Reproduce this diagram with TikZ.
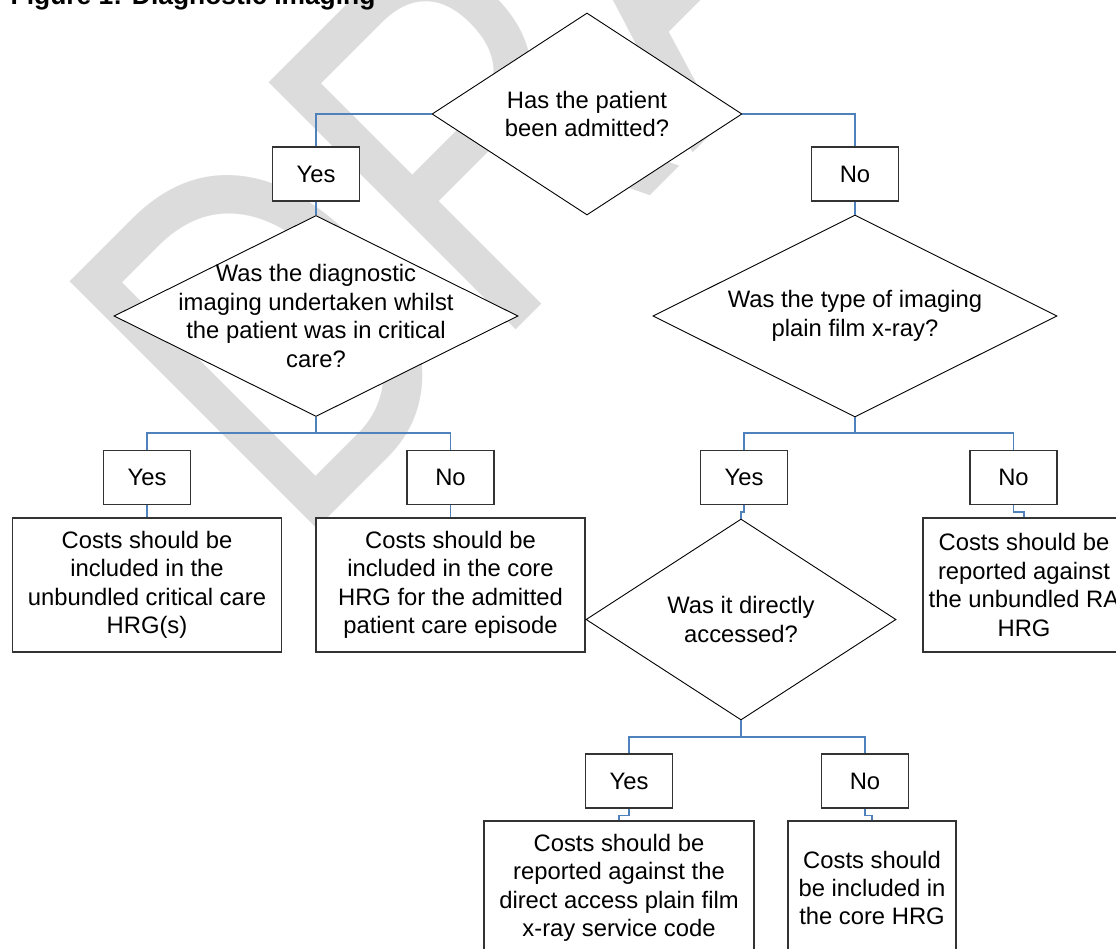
\documentclass[tikz,border=0pt]{standalone}
\usepackage{fontspec}
\setmainfont{Liberation Sans}
\usepackage{graphicx}
\usetikzlibrary{shapes.geometric,calc}
\definecolor{connblue}{RGB}{79,129,189}
\definecolor{wmgray}{RGB}{220,220,220}
\newcommand\bodyfont{\fontsize{23.8}{28.4}\selectfont}
\begin{document}
\begin{tikzpicture}[x=1pt,y=-1pt,
  box/.style={draw=black!80, line width=1.2pt, fill=white, inner sep=0pt, align=center, font=\bodyfont},
  dia/.style={diamond, draw=black, line width=0.9pt, fill=white, inner sep=0pt},
  txt/.style={inner sep=0pt, align=center, font=\bodyfont},
  conn/.style={draw=connblue, line width=1.3pt},
  yn/.style={box, minimum width=87pt, minimum height=54pt},
  res/.style={box, minimum height=134pt}]
\useasboundingbox (0,0) rectangle (1116,949);
\fill[white] (0,0) rectangle (1116,949);
\clip (0,0) rectangle (1116,949);
% watermark
\node[anchor=base west, inner sep=0pt, rotate=45, text=wmgray,
      font=\fontsize{508}{508}\selectfont] (wmk) at (294,552) {\scalebox{0.768}[1]{DRAFT}};
% title
\node[anchor=base west, inner sep=0pt, font=\bfseries\fontsize{26.4}{30}\selectfont] (title) at (10.5,4.5) {Figure 1: Diagnostic Imaging};
% branch points
\coordinate (b2) at (316,433);
\coordinate (b3) at (855,433);
\coordinate (b4) at (741,737);
% shapes
\node[dia, minimum width=310pt, minimum height=202pt] (d1) at (587,114) {};
\node[yn] (y1) at (316,174) {Yes};
\node[yn] (n1) at (855,174) {No};
\node[dia, minimum width=404pt, minimum height=201pt] (d2) at (316,316) {};
\node[dia, minimum width=404pt, minimum height=202pt] (d3) at (855,316) {};
\node[yn] (y2) at (147,477.5) {Yes};
\node[yn] (n2) at (450.5,477.5) {No};
\node[yn] (y3) at (744,477.5) {Yes};
\node[yn] (n3) at (1013.5,477.5) {No};
\node[res, minimum width=269.5pt] (rA) at (147,585) {Costs should be\\included in the\\unbundled critical care\\HRG(s)};
\node[res, minimum width=269pt] (rB) at (450.5,585) {Costs should be\\included in the core\\HRG for the admitted\\patient care episode};
\node[res, minimum width=202pt] (rC) at (1024,585) {Costs should be\\reported against\\the unbundled RA\\HRG};
\node[dia, minimum width=310pt, minimum height=201pt] (d4) at (741,619.5) {};
\node[yn] (y4) at (629,781) {Yes};
\node[yn] (n4) at (865,781) {No};
\node[res, minimum width=270pt] (rD) at (619,888) {Costs should be\\reported against the\\direct access plain film\\x-ray service code};
\node[res, minimum width=168pt] (rE) at (872,888) {Costs should\\be included in\\the core HRG};
% diamond texts
\node[txt] (t1) at (d1.center) {Has the patient\\been admitted?};
\node[txt] (t2) at (d2.center) {Was the diagnostic\\imaging undertaken whilst\\the patient was in critical\\care?};
\node[txt] (t3) at (d3.center) {Was the type of imaging\\plain film x-ray?};
\node[txt] (t4) at (d4.center) {Was it directly\\accessed?};
% connectors
\draw[conn] (d1.west) -| (y1.north);
\draw[conn] (d1.east) -| (n1.north);
\draw[conn] (y1.south) -- (d2.north);
\draw[conn] (n1.south) -- (d3.north);
\draw[conn] (d2.south) -- (b2) -| (y2.north);
\draw[conn] (b2) -| (n2.north);
\draw[conn] (y2.south) -- (rA.north);
\draw[conn] (n2.south) -- (rB.north);
\draw[conn] (d3.south) -- (b3) -| (y3.north);
\draw[conn] (b3) -| (n3.north);
\draw[conn] (y3.south) -- ++(0,7) -| (d4.north);
\draw[conn] (n3.south) -- ++(0,7) -| (rC.north);
\draw[conn] (d4.south) -- (b4) -| (y4.north);
\draw[conn] (b4) -| (n4.north);
\draw[conn] (y4.south) -- ++(0,7) -| (rD.north);
\draw[conn] (n4.south) -- ++(0,7) -| (rE.north);
\end{tikzpicture}
\end{document}
